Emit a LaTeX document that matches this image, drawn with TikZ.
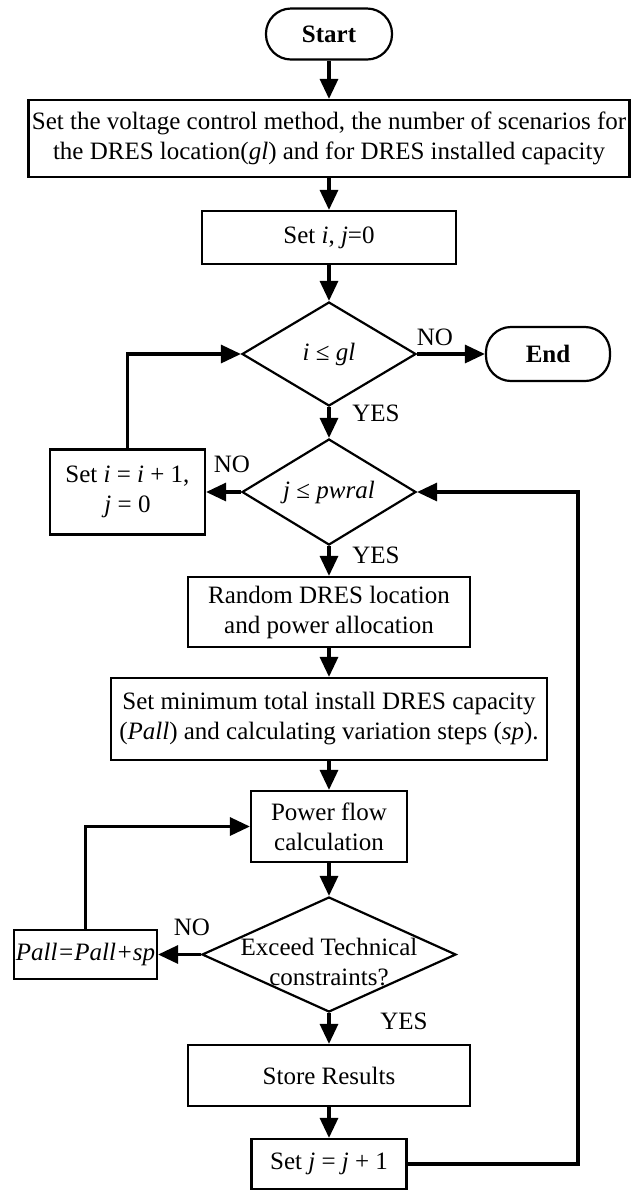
\documentclass[tikz,border=0pt]{standalone}
\usepackage{fontspec}
\setmainfont{Liberation Serif}
\usetikzlibrary{shapes.geometric,arrows.meta}

\def\fsz{\fontsize{12.5pt}{15pt}\selectfont}

\tikzset{
	sz/.style 2 args={minimum width=#1*0.5pt, minimum height=#2*0.5pt},
	box/.style={draw, line width=1.1pt, inner sep=0pt, align=center},
	term/.style={box, rounded corners=12.5pt, font=\fsz\bfseries},
	decision/.style={draw, diamond, line width=1.1pt, inner sep=0pt},
	flow/.style={line width=1.6pt, -{Triangle[width=9pt,length=10pt]}},
}

\begin{document}
\begin{tikzpicture}[x=0.5pt, y=-0.5pt, font=\fsz]
	\useasboundingbox (0,0) rectangle (641,1191);

	\node[term, sz={126}{51}] (start) at (329,34) {Start};
	\node[box, sz={601}{77}] (setup) at (329,138.5) {Set the voltage control method, the number of scenarios for\\the DRES location(\textit{gl}) and for DRES installed capacity};
	\node[box, sz={254}{53}] (init) at (329,237.5) {Set \textit{i}, \textit{j}=0};
	\node[decision, sz={174}{104}] (checki) at (329,354) {};
	\node (checkitxt) at (checki) {\textit{i} ≤ \textit{gl}};
	\node[term, sz={124}{54}] (stop) at (548,354) {End};
	\node[decision, sz={174}{106}] (checkj) at (329,492) {};
	\node (checkjtxt) at (checkj) {\textit{j} ≤ \textit{pwral}};
	\node[box, sz={155}{85}] (nexti) at (127.5,492) {Set \textit{i} = \textit{i} + 1,\\\textit{j} = 0};
	\node[box, sz={282}{70}] (place) at (329,612) {Random DRES location\\and power allocation};
	\node[box, sz={436}{82}] (setmin) at (329,719) {Set minimum total install DRES capacity\\(\textit{Pall}) and calculating variation steps (\textit{sp}).};
	\node[box, sz={156}{71}] (pflow) at (329,826.5) {Power flow\\calculation};
	\node[decision, sz={254}{115}] (exceed) at (329,954.5) {};
	\node[align=center] (exceedtxt) at (329,962) {Exceed Technical\\constraints?};
	\node[box, sz={143}{49}] (pall) at (85.5,954.5) {\textit{Pall=Pall+sp}};
	\node[box, sz={282}{61}] (store) at (329,1075.5) {Store Results};
	\node[box, sz={155}{50}] (incj) at (329,1164) {Set \textit{j} = \textit{j} + 1};
	\coordinate (rside) at (578,1164);

	% branch labels
	\node (no1) at (435,337) {NO};
	\node (yes1) at (376,413) {YES};
	\node (no2) at (232,464) {NO};
	\node (yes2) at (376,555) {YES};
	\node (no3) at (192,927) {NO};
	\node (yes3) at (404,1021) {YES};

	\foreach \a/\b in {start/setup, setup/init, init/checki, checki/checkj, checkj/place, place/setmin, setmin/pflow, pflow/exceed, exceed/store, store/incj}
		\draw[flow] (\a) -- (\b);

	\draw[flow] (checki) -- (stop);
	\draw[flow] (checkj) -- (nexti);
	\draw[flow] (exceed) -- (pall);
	\draw[flow] (nexti.north) |- (checki.west);
	\draw[flow] (pall.north) |- (pflow.west);
	\draw[flow] (incj.east) -- (rside) |- (checkj.east);
\end{tikzpicture}
\end{document}
